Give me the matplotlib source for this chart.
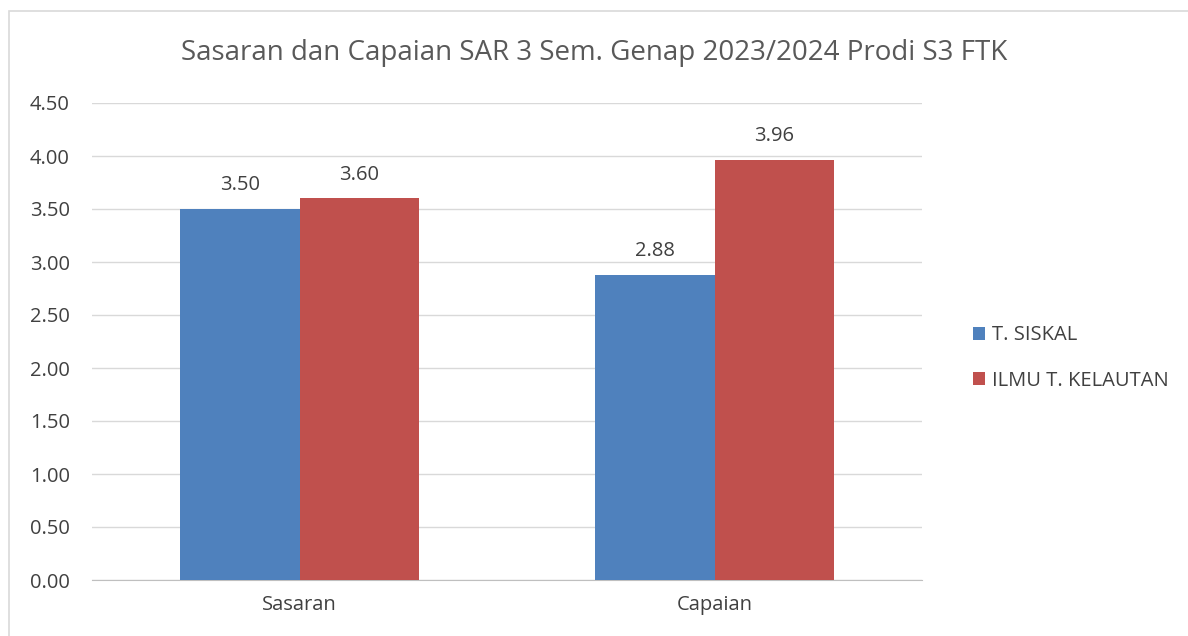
import matplotlib.pyplot as plt
import numpy as np
from matplotlib.patches import Rectangle

categories = ["Sasaran", "Capaian"]
series_names = ["T. SISKAL", "ILMU T. KELAUTAN"]
t_siskal = [3.50, 2.88]
ilmu_kelautan = [3.60, 3.96]
colors = ["#4F81BD", "#C0504D"]

plt.rcParams['font.family'] = ['Open Sans', 'DejaVu Sans']

fig = plt.figure(figsize=(11.88, 6.36), dpi=100)
ax = fig.add_axes([92/1188, 1-580/636, 830/1188, 477/636])

x = np.arange(len(categories))
w = 0.287
for vals, name, c, off in [(t_siskal, series_names[0], colors[0], -w/2), (ilmu_kelautan, series_names[1], colors[1], w/2)]:
    bars = ax.bar(x + off, vals, width=w, color=c, label=name, zorder=3)
    for b, v in zip(bars, vals):
        ax.text(b.get_x() + b.get_width()/2, v + 0.13, f"{v:.2f}", ha="center", va="bottom",
                fontsize=14.5, color="#404040")

ax.set_xlim(-0.5, 1.5)
ax.set_ylim(0, 4.5)
ax.set_yticks(np.arange(0, 4.51, 0.5))
ax.set_yticklabels([f"{v:.2f}" for v in np.arange(0, 4.51, 0.5)])
ax.set_xticks(x)
ax.set_xticklabels(categories)
ax.tick_params(axis="both", length=0, labelsize=14.5, labelcolor="#404040")
ax.tick_params(axis="y", pad=16)
ax.tick_params(axis="x", pad=11)
ax.grid(axis="y", color="#d9d9d9", linewidth=1, zorder=0)
for s in ["top", "right", "left"]:
    ax.spines[s].set_visible(False)
ax.spines["bottom"].set_color("#bfbfbf")

fig.text(0.5, 1-53/636, "Sasaran dan Capaian SAR 3 Sem. Genap 2023/2024 Prodi S3 FTK",
         ha="center", va="center", fontsize=20, color="#595959")

leg = fig.legend(loc="center left", bbox_to_anchor=(955/1188, 1-358/636), frameon=False,
                 fontsize=14.5, labelspacing=1.25, handlelength=0.6, handleheight=0.6, handletextpad=0.35)
for t in leg.get_texts():
    t.set_color("#404040")

fig.patches.append(Rectangle((9/1188, -0.05), 1.1, 1.05 - 11/636, transform=fig.transFigure,
                             fill=False, edgecolor="#d9d9d9", linewidth=1.2))

fig.savefig("out.png", dpi=100)
